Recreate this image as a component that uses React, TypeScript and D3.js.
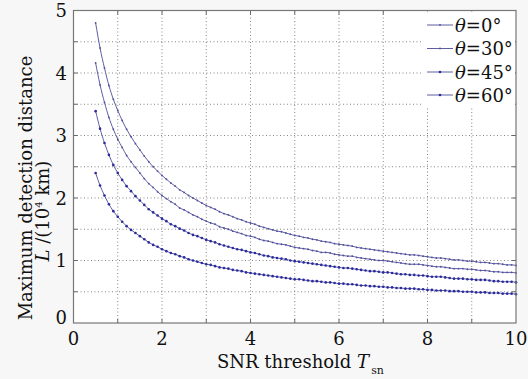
import React from "react";
import * as d3 from "d3";

// SNR threshold sample grid (x): 0.5 .. 10 by 0.1
const T_FIRST = 0.5;
const T_LAST = 10;
const T_COUNT = 96;

// Maximum detection distance L (10^4 km)
const L_THETA_0 = [
  4.80, 4.40, 4.08, 3.80, 3.58, 3.40, 3.24, 3.10, 2.98, 2.87,
  2.77, 2.67, 2.58, 2.50, 2.43, 2.36, 2.30, 2.24, 2.19, 2.13,
  2.09, 2.04, 2.00, 1.96, 1.92, 1.88, 1.85, 1.82, 1.78, 1.75,
  1.73, 1.70, 1.67, 1.65, 1.62, 1.60, 1.58, 1.55, 1.53, 1.51,
  1.49, 1.47, 1.46, 1.44, 1.42, 1.40, 1.39, 1.37, 1.36, 1.34,
  1.33, 1.31, 1.30, 1.29, 1.27, 1.26, 1.25, 1.24, 1.23, 1.21,
  1.20, 1.19, 1.18, 1.17, 1.16, 1.15, 1.14, 1.13, 1.12, 1.11,
  1.10, 1.09, 1.09, 1.08, 1.07, 1.06, 1.05, 1.04, 1.04, 1.03,
  1.02, 1.01, 1.01, 1.00, 0.99, 0.99, 0.98, 0.97, 0.97, 0.96,
  0.95, 0.95, 0.94, 0.93, 0.93, 0.92,
];
const L_THETA_30 = [
  4.16, 3.81, 3.53, 3.29, 3.10, 2.94, 2.81, 2.68, 2.58, 2.49,
  2.40, 2.31, 2.23, 2.17, 2.10, 2.04, 1.99, 1.94, 1.90, 1.84,
  1.81, 1.77, 1.73, 1.70, 1.66, 1.63, 1.60, 1.58, 1.54, 1.52,
  1.50, 1.47, 1.45, 1.43, 1.40, 1.39, 1.37, 1.34, 1.32, 1.31,
  1.29, 1.27, 1.26, 1.25, 1.23, 1.21, 1.20, 1.19, 1.18, 1.16,
  1.15, 1.13, 1.13, 1.12, 1.10, 1.09, 1.08, 1.07, 1.07, 1.05,
  1.04, 1.03, 1.02, 1.01, 1.00, 1.00, 0.99, 0.98, 0.97, 0.96,
  0.95, 0.94, 0.94, 0.94, 0.93, 0.92, 0.91, 0.90, 0.90, 0.89,
  0.88, 0.87, 0.87, 0.87, 0.86, 0.86, 0.85, 0.84, 0.84, 0.83,
  0.82, 0.82, 0.81, 0.81, 0.81, 0.80,
];
const L_THETA_45 = [
  3.39, 3.11, 2.88, 2.69, 2.53, 2.40, 2.29, 2.19, 2.11, 2.03,
  1.96, 1.89, 1.82, 1.77, 1.72, 1.67, 1.63, 1.58, 1.55, 1.51,
  1.48, 1.44, 1.41, 1.39, 1.36, 1.33, 1.31, 1.29, 1.26, 1.24,
  1.22, 1.20, 1.18, 1.17, 1.15, 1.13, 1.12, 1.10, 1.08, 1.07,
  1.05, 1.04, 1.03, 1.02, 1.00, 0.99, 0.98, 0.97, 0.96, 0.95,
  0.94, 0.93, 0.92, 0.91, 0.90, 0.89, 0.88, 0.88, 0.87, 0.86,
  0.85, 0.84, 0.83, 0.83, 0.82, 0.81, 0.81, 0.80, 0.79, 0.78,
  0.78, 0.77, 0.77, 0.76, 0.76, 0.75, 0.74, 0.74, 0.74, 0.73,
  0.72, 0.71, 0.71, 0.71, 0.70, 0.70, 0.69, 0.69, 0.69, 0.68,
  0.67, 0.67, 0.66, 0.66, 0.66, 0.65,
];
const L_THETA_60 = [
  2.40, 2.20, 2.04, 1.90, 1.79, 1.70, 1.62, 1.55, 1.49, 1.44,
  1.39, 1.34, 1.29, 1.25, 1.22, 1.18, 1.15, 1.12, 1.10, 1.07,
  1.05, 1.02, 1.00, 0.98, 0.96, 0.94, 0.93, 0.91, 0.89, 0.88,
  0.87, 0.85, 0.84, 0.83, 0.81, 0.80, 0.79, 0.78, 0.77, 0.76,
  0.75, 0.74, 0.73, 0.72, 0.71, 0.70, 0.70, 0.69, 0.68, 0.67,
  0.67, 0.66, 0.65, 0.65, 0.64, 0.63, 0.63, 0.62, 0.62, 0.61,
  0.60, 0.60, 0.59, 0.59, 0.58, 0.58, 0.57, 0.57, 0.56, 0.56,
  0.55, 0.55, 0.55, 0.54, 0.54, 0.53, 0.53, 0.52, 0.52, 0.52,
  0.51, 0.51, 0.51, 0.50, 0.50, 0.50, 0.49, 0.49, 0.49, 0.48,
  0.48, 0.48, 0.47, 0.47, 0.47, 0.46,
];

const SERIES_ANGLES = ["0", "30", "45", "60"];
const SERIES_VALUES = [L_THETA_0, L_THETA_30, L_THETA_45, L_THETA_60];

const X_TICKS = [0, 2, 4, 6, 8, 10];
const X_GRID = [1, 2, 3, 4, 5, 6, 7, 8, 9];
const Y_TICKS = [0, 1, 2, 3, 4, 5];
const Y_GRID = [0.5, 1, 1.5, 2, 2.5, 3, 3.5, 4, 4.5];

const W = 528;
const H = 379;
const M = { left: 73.5, right: 516, top: 10.5, bottom: 323 };
const FONT = "'DejaVu Serif', 'Liberation Serif', serif";
const LINE_COLOR = "#5e5ea4";
const DOT_COLORS = ["#50509c", "#50509c", "#2a2a9e", "#2a2a9e"];
const DOT_R = [0.9, 0.9, 1.3, 1.3];

export default function App() {
  const x = d3.scaleLinear().domain([0, 10]).range([M.left, M.right]);
  const y = d3.scaleLinear().domain([0, 5]).range([M.bottom, M.top]);
  const tGrid = d3.range(T_COUNT).map((i) =>
    T_FIRST + ((T_LAST - T_FIRST) * i) / (T_COUNT - 1)
  );
  const line = d3
    .line<number>()
    .x((_, i) => x(tGrid[i]))
    .y((d) => y(d))
    .curve(d3.curveMonotoneX);

  const legendRows = [25, 48.5, 72, 95];
  const tickLen = 4;

  return (
    <svg
      width={W}
      height={H}
      style={{ position: "absolute", left: 0, top: 0, background: "#f7f7f7" }}
      fontFamily={FONT}
    >
      <rect x={M.left} y={M.top} width={M.right - M.left} height={M.bottom - M.top} fill="#ffffff" />
      {/* grid */}
      {X_GRID.map((v) => (
        <line key={"gx" + v} x1={x(v)} x2={x(v)} y1={M.top} y2={M.bottom} stroke="#777" strokeWidth={0.9} strokeDasharray="1,2.5" />
      ))}
      {Y_GRID.map((v) => (
        <line key={"gy" + v} x1={M.left} x2={M.right} y1={y(v)} y2={y(v)} stroke="#777" strokeWidth={0.9} strokeDasharray="1,2.5" />
      ))}
      {/* ticks */}
      {X_GRID.map((v) => (
        <g key={"tx" + v}>
          <line x1={x(v)} x2={x(v)} y1={M.bottom} y2={M.bottom - tickLen} stroke="#666" />
          <line x1={x(v)} x2={x(v)} y1={M.top} y2={M.top + tickLen} stroke="#666" />
        </g>
      ))}
      {Y_GRID.map((v) => (
        <g key={"ty" + v}>
          <line x1={M.left} x2={M.left + tickLen} y1={y(v)} y2={y(v)} stroke="#666" />
          <line x1={M.right} x2={M.right - tickLen} y1={y(v)} y2={y(v)} stroke="#666" />
        </g>
      ))}
      {/* series */}
      {SERIES_VALUES.map((vals, si) => (
        <g key={"s" + si}>
          <path d={line(vals) || ""} fill="none" stroke={LINE_COLOR} strokeWidth={1} />
          {vals.map((v, i) => (
            <circle key={i} cx={x(tGrid[i])} cy={y(v)} r={DOT_R[si]} fill={DOT_COLORS[si]} />
          ))}
        </g>
      ))}
      {/* legend */}
      <rect x={422} y={M.top + 1} width={M.right - 423} height={96} fill="#ffffff" />
      {SERIES_ANGLES.map((a, i) => (
        <g key={"lg" + a}>
          <line x1={427} x2={453} y1={legendRows[i]} y2={legendRows[i]} stroke={LINE_COLOR} strokeWidth={1} />
          <circle cx={440} cy={legendRows[i]} r={DOT_R[i]} fill={DOT_COLORS[i]} />
          <text x={455} y={legendRows[i] + 6.5} fontSize={18} fill="#111">
            <tspan fontStyle="italic">θ</tspan>={a}°
          </text>
        </g>
      ))}
      {/* frame */}
      <rect x={M.left} y={M.top} width={M.right - M.left} height={M.bottom - M.top} fill="none" stroke="#777" strokeWidth={1.2} />
      {/* tick labels */}
      {X_TICKS.map((v) => (
        <text key={"xl" + v} x={x(v)} y={345} fontSize={18} textAnchor="middle" fill="#111">
          {v}
        </text>
      ))}
      {Y_TICKS.map((v) => (
        <text key={"yl" + v} x={67} y={y(v) + (v === 0 ? 1 : 6.5)} fontSize={18} textAnchor="end" fill="#111">
          {v}
        </text>
      ))}
      {/* axis titles */}
      <text x={217} y={368} fontSize={18} fill="#111">
        SNR threshold <tspan fontStyle="italic">T</tspan>
        <tspan fontSize={11} dy={6} dx={2}>sn</tspan>
      </text>
      <text transform="translate(32,188) rotate(-90)" fontSize={18} textAnchor="middle" fill="#111">
        Maximum detection distance
      </text>
      <text transform="translate(49,211) rotate(-90)" fontSize={18} textAnchor="middle" fill="#111">
        <tspan fontStyle="italic">L</tspan> /(10<tspan fontSize={10} dy={-7}>4</tspan>
        <tspan dy={7}> km)</tspan>
      </text>
    </svg>
  );
}
